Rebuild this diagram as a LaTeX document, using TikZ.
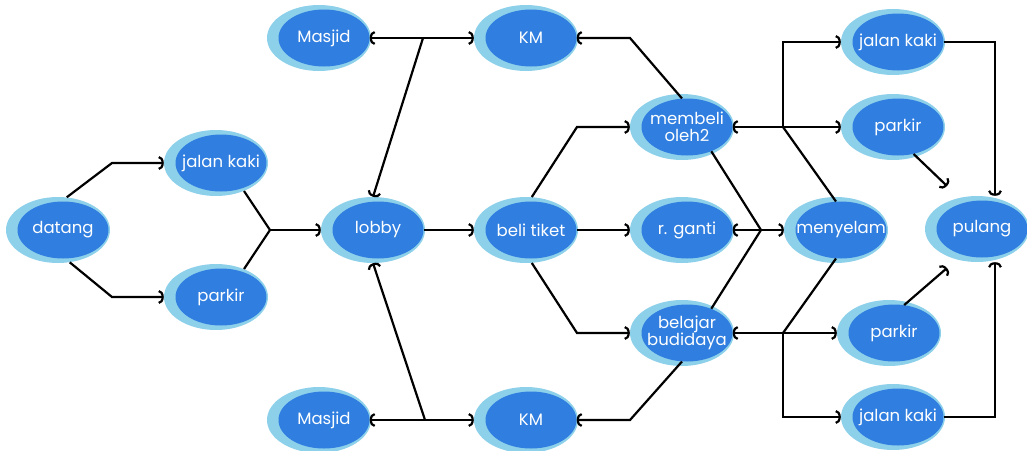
\documentclass[tikz,border=0pt]{standalone}
\usepackage{fontspec}
\setmainfont{Poppins}
\usetikzlibrary{shapes.geometric, arrows.meta}
\definecolor{bubbleblue}{HTML}{2F7EE0}
\definecolor{haloblue}{HTML}{8DD0EA}
\tikzset{
    halo/.style={ellipse, fill=haloblue, minimum width=104pt, minimum height=66pt, inner sep=0pt},
    bubble/.style={ellipse, fill=bubbleblue, text=white, minimum width=91pt, minimum height=57pt,
        inner xsep=-20pt, inner ysep=-10pt, align=center, font=\fontsize{16.5}{17}\selectfont},
    link/.style={line width=2.2pt},
    arr/.style={link, -{Arc Barb[length=5pt, width=14pt, line width=2.2pt]}},
}
\begin{document}
\begin{tikzpicture}[x=1pt, y=-1pt]
    \useasboundingbox (0,0) rectangle (1027,450);
    % bubbles: name / x / y / text
    \foreach \n/\x/\y/\t in {datang/63/230/datang, jkA/221/163/jalan kaki, pkA/221/297/parkir,
        lobby/378/230/lobby, masjidT/324/38/Masjid, kmT/531/38/KM, masjidB/324/420/Masjid,
        kmB/531/420/KM, tiket/531/230/beli tiket, oleh/687/127/{membeli\\oleh2},
        ganti/687/230/r. ganti, budidaya/687/333/{belajar\\budidaya}, selam/841/230/menyelam,
        jkT/898/42/jalan kaki, pkT/898/127/parkir, pkB/894/333/parkir, jkB/898/417/jalan kaki,
        pulang/982/229/pulang}{
        \node[halo] (h\n) at (\x-5,\y) {};
        \node[bubble] (\n) at (\x,\y) {\t};
    }
    % junctions
    \coordinate (jA1) at (112,163);
    \coordinate (jA2) at (112,297);
    \coordinate (jL) at (270,230);
    \coordinate (jT) at (423,38);
    \coordinate (jB) at (425,420);
    \coordinate (jO) at (577,127);
    \coordinate (jD) at (577,333);
    \coordinate (jK1) at (630,38);
    \coordinate (jK2) at (630,420);
    \coordinate (jG) at (761,230);
    \coordinate (jS1) at (783,127);
    \coordinate (jS2) at (783,333);
    \coordinate (jS3) at (783,42);
    \coordinate (jS4) at (783,417);
    \coordinate (jP1) at (995,42);
    \coordinate (jP2) at (995,417);
    \coordinate (tA) at (947,186);
    \coordinate (tB) at (947,268);
    % datang -> lobby
    \draw[arr] (hdatang.75) -- (jA1) -- (hjkA.west);
    \draw[arr] (hdatang.-70) -- (jA2) -- (hpkA.west);
    \draw[link] (hjkA.-45) -- (jL) -- (hpkA.45);
    \draw[arr] (jL) -- (hlobby.west);
    % lobby <-> Masjid, KM
    \draw[arr] (jT) -- (masjidT.east);
    \draw[arr] (jT) -- (hkmT.west);
    \draw[arr] (jT) -- (hlobby.north);
    \draw[arr] (jB) -- (masjidB.east);
    \draw[arr] (jB) -- (hkmB.west);
    \draw[arr] (jB) -- (hlobby.south);
    % lobby -> beli tiket -> ...
    \draw[arr] (lobby.east) -- (htiket.west);
    \draw[arr] (htiket.80) -- (jO) -- (holeh.west);
    \draw[arr] (tiket.east) -- (hganti.west);
    \draw[arr] (htiket.-80) -- (jD) -- (hbudidaya.west);
    \draw[arr] (oleh.100) -- (jK1) -- (kmT.east);
    \draw[arr] (budidaya.-100) -- (jK2) -- (kmB.east);
    \draw[link] (oleh.-45) -- (jG) -- (budidaya.45);
    \draw[arr] (jG) -- (ganti.east);
    \draw[arr] (jG) -- (hselam.west);
    % menyelam -> pulang
    \draw[link] (selam.100) -- (jS1);
    \draw[arr] (jS1) -- (oleh.east);
    \draw[arr] (jS1) -- (hpkT.west);
    \draw[arr] (jS1) -- (jS3) -- (hjkT.west);
    \draw[link] (selam.-100) -- (jS2);
    \draw[arr] (jS2) -- (budidaya.east);
    \draw[arr] (jS2) -- (hpkB.west);
    \draw[arr] (jS2) -- (jS4) -- (hjkB.west);
    \draw[arr] (jkT.east) -- (jP1) -- (jP1 |- hpulang.north);
    \draw[arr] (jkB.east) -- (jP2) -- (jP2 |- hpulang.south);
    \draw[arr] (pkT.-60) -- (tA);
    \draw[arr] (pkB.70) -- (tB);
\end{tikzpicture}
\end{document}
